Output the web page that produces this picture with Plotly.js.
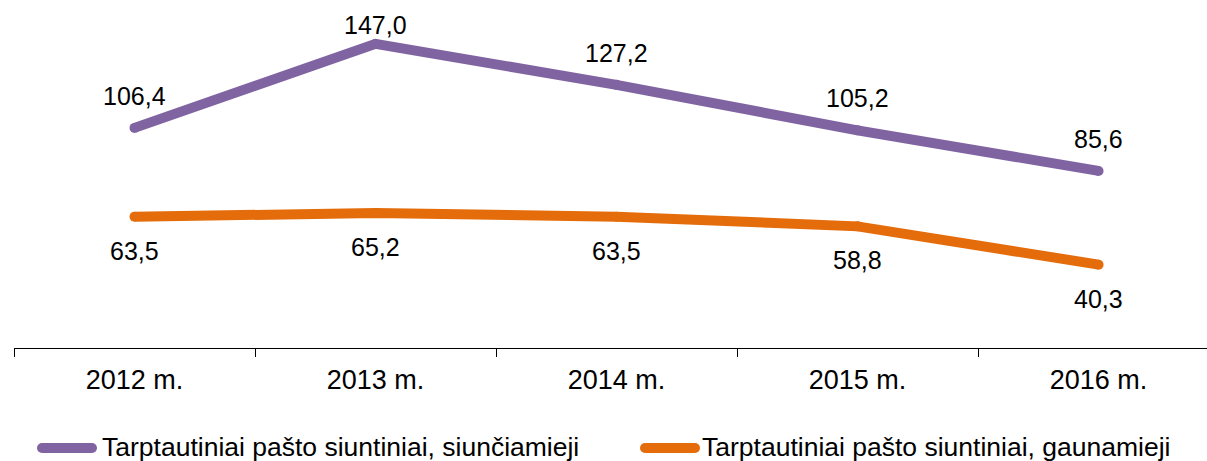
<!DOCTYPE html>
<html>
<head>
<meta charset="utf-8">
<script src="https://cdn.plot.ly/plotly-3.0.1.min.js"></script>
<style>html,body{margin:0;padding:0;background:#fff;}#chart{width:1207px;height:461px;}</style>
</head>
<body>
<div id="chart"></div>
<script>
const categories = ["2012 m.", "2013 m.", "2014 m.", "2015 m.", "2016 m."];
const sentValues = [106.4, 147.0, 127.2, 105.2, 85.6];
const receivedValues = [63.5, 65.2, 63.5, 58.8, 40.3];
const seriesNames = ["Tarptautiniai pašto siuntiniai, siunčiamieji", "Tarptautiniai pašto siuntiniai, gaunamieji"];
const seriesColors = ["#8064A2", "#E46C0A"];

const W = 1207, H = 461;
const M = {l: 14, r: 0, t: 17, b: 113};
const yMax = 160;
const plotH = H - M.t - M.b;
const ppu = plotH / yMax;
const FONT = "Liberation Sans, Arial, sans-serif";

function fmt(v) { return v.toFixed(1).replace(".", ","); }

const traces = [sentValues, receivedValues].map((vals, i) => ({
  type: "scatter",
  mode: "lines+markers",
  x: categories,
  y: vals,
  name: seriesNames[i],
  line: {color: seriesColors[i], width: 10},
  marker: {color: seriesColors[i], size: 10},
  showlegend: false,
  hoverinfo: "skip"
}));

const annotations = [];
sentValues.forEach((v, i) => {
  const py = M.t + (yMax - v) * ppu;
  const center = Math.max(py - 32, 25);
  annotations.push({x: categories[i], y: v, xref: "x", yref: "y", text: fmt(v), showarrow: false,
    yshift: py - center, xanchor: "center", yanchor: "middle",
    font: {family: FONT, size: 25, color: "#000"}});
});
receivedValues.forEach((v, i) => {
  annotations.push({x: categories[i], y: v, xref: "x", yref: "y", text: fmt(v), showarrow: false,
    yshift: -34, xanchor: "center", yanchor: "middle",
    font: {family: FONT, size: 25, color: "#000"}});
});

// manual legend
const legendY = 348 - 448; // pixels relative to plot bottom
const legendItems = [{x0: 37, tx: 100}, {x0: 640, tx: 700}];
const shapes = [];
legendItems.forEach((it, i) => {
  const a = it.x0 - M.l;
  const common = {xref: "paper", yref: "paper", xanchor: 0, yanchor: 0, xsizemode: "pixel", ysizemode: "pixel",
    fillcolor: seriesColors[i], line: {width: 0}, layer: "above"};
  shapes.push(Object.assign({type: "rect", x0: a + 5, x1: a + 55, y0: legendY - 5, y1: legendY + 5}, common));
  shapes.push(Object.assign({type: "circle", x0: a, x1: a + 10, y0: legendY - 5, y1: legendY + 5}, common));
  shapes.push(Object.assign({type: "circle", x0: a + 50, x1: a + 60, y0: legendY - 5, y1: legendY + 5}, common));
  annotations.push({xref: "paper", yref: "paper", x: 0, y: 0, xshift: it.tx - M.l, yshift: legendY + 1,
    xanchor: "left", yanchor: "middle", text: seriesNames[i], showarrow: false,
    font: {family: FONT, size: 26.5, color: "#000"}});
});

const layout = {
  width: W, height: H,
  margin: M,
  paper_bgcolor: "#fff", plot_bgcolor: "#fff",
  font: {family: FONT, color: "#000"},
  xaxis: {
    type: "category",
    range: [-0.5, 4.45],
    tickson: "boundaries",
    ticks: "outside", ticklen: 8, tickwidth: 1, tickcolor: "#000",
    ticklabelstandoff: 8,
    showline: true, linecolor: "#000", linewidth: 1,
    showgrid: false, zeroline: false,
    tickfont: {family: FONT, size: 27, color: "#000"},
    fixedrange: true
  },
  yaxis: {
    range: [0, yMax], visible: false, showgrid: false, zeroline: false, fixedrange: true
  },
  shapes: shapes,
  annotations: annotations,
  showlegend: false
};

Plotly.newPlot("chart", traces, layout, {displayModeBar: false, staticPlot: true});
</script>
</body>
</html>
